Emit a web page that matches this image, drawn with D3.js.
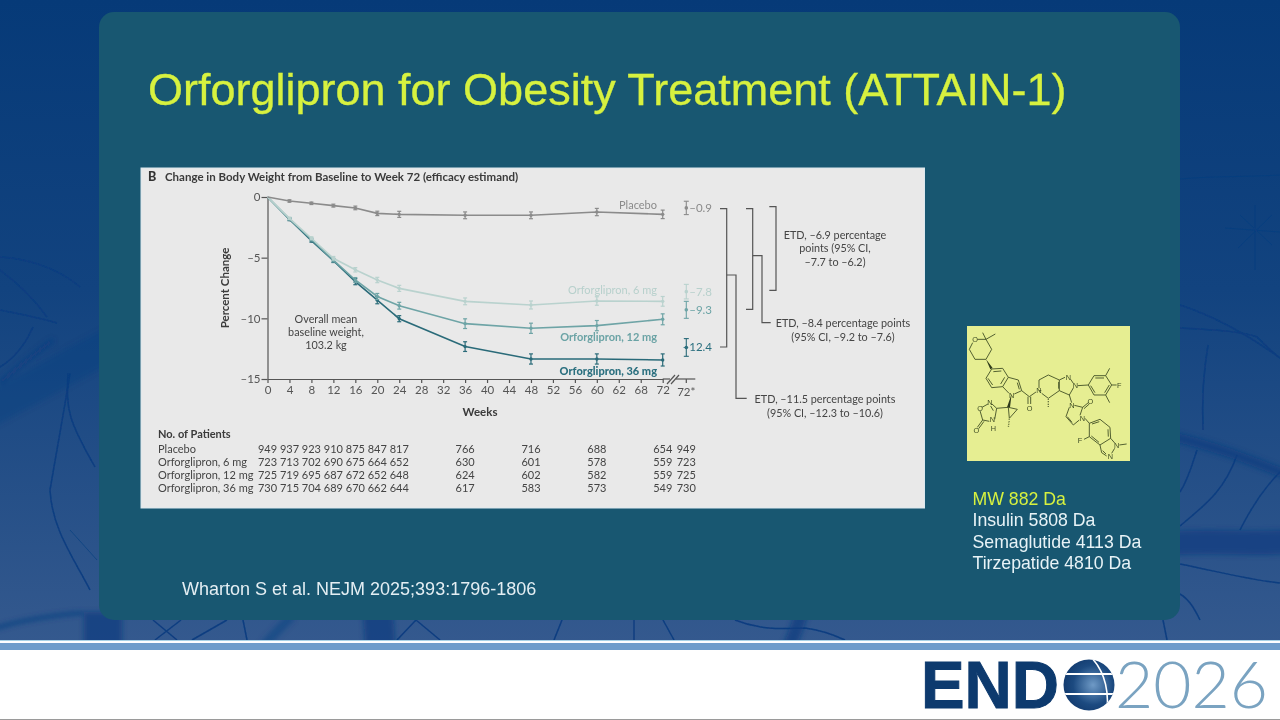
<!DOCTYPE html>
<html>

<head>
    <meta charset='utf-8' />
    <title>Orforglipron ATTAIN-1</title>
    <script src="https://cdn.jsdelivr.net/npm/d3@7"></script>
    <style>
        body {
            margin: 0;
            padding: 0;
            background: #fff;
        }

        svg {
            display: block;
        }

        .fig text {
            font-family: Lato, "Open Sans", sans-serif;
        }

        .axis path,
        .axis line {
            stroke: #555;
            stroke-width: 1.2;
        }

        .axis text {
            font-size: 11.5px;
            fill: #555;
            font-family: Lato, sans-serif;
        }
    </style>
</head>

<body>
    <div id='chart'></div>
    <script>
        // values
        var weeks = [0, 4, 8, 12, 16, 20, 24, 36, 48, 60, 72];
        var tickWeeks = d3.range(0, 73, 4);
        var tickLabels = ["0", "4", "8", "12", "16", "20", "24", "28", "32", "36", "40", "44", "48", "52", "56", "60", "62", "68", "72"];
        var yTicks = [0, -5, -10, -15];

        var placebo = [0, -0.33, -0.52, -0.71, -0.9, -1.35, -1.43, -1.51, -1.51, -1.24, -1.43];
        var mg6 = [0, -1.76, -3.4, -5.05, -6.0, -6.84, -7.53, -8.6, -8.9, -8.57, -8.6];
        var mg12 = [0, -1.8, -3.5, -5.2, -6.84, -8.2, -8.96, -10.44, -10.82, -10.6, -10.08];
        var mg36 = [0, -1.85, -3.6, -5.25, -6.98, -8.5, -10.03, -12.33, -13.35, -13.35, -13.43];

        var placeboCi = [0, 0.1, 0.1, 0.12, 0.15, 0.18, 0.25, 0.28, 0.28, 0.3, 0.35];
        var mg6Ci = [0, 0.1, 0.12, 0.15, 0.18, 0.22, 0.25, 0.28, 0.33, 0.35, 0.4];
        var mg12Ci = [0, 0.1, 0.12, 0.15, 0.2, 0.25, 0.28, 0.4, 0.42, 0.42, 0.45];
        var mg36Ci = [0, 0.1, 0.12, 0.15, 0.25, 0.3, 0.25, 0.4, 0.42, 0.42, 0.5];

        var seriesNames = ["Placebo", "Orforglipron, 6 mg", "Orforglipron, 12 mg", "Orforglipron, 36 mg"];
        var star = [-0.9, -7.8, -9.3, -12.4];
        var starCi = [0.55, 0.6, 0.7, 0.73];
        var starLabels = ["\u20130.9", "\u20137.8", "\u20139.3", "\u201312.4"];

        var nPlacebo = [949, 937, 923, 910, 875, 847, 817, 766, 716, 688, 654, 949];
        var n6 = [723, 713, 702, 690, 675, 664, 652, 630, 601, 578, 559, 723];
        var n12 = [725, 719, 695, 687, 672, 652, 648, 624, 602, 582, 559, 725];
        var n36 = [730, 715, 704, 689, 670, 662, 644, 617, 583, 573, 549, 730];

        var massLines = ["MW 882 Da", "Insulin 5808 Da", "Semaglutide 4113 Da", "Tirzepatide 4810 Da"];

        var colors = ["#8b8b8b", "#b9d2ce", "#6ea4a6", "#2a6b79"];
        var labelColors = ["#8a8a8a", "#b7d0cc", "#6ba3a5", "#2b6f7f"];
        var starWeek = 76.3;

        var svg = d3.select("#chart").append("svg").attr("width", 1280).attr("height", 720);
        var defs = svg.append("defs");

        var bg = defs.append("linearGradient").attr("id", "bg").attr("x1", 0).attr("x2", 0).attr("y1", 0).attr("y2", 1);
        bg.append("stop").attr("offset", "0%").attr("stop-color", "#063a78");
        bg.append("stop").attr("offset", "45%").attr("stop-color", "#12437f");
        bg.append("stop").attr("offset", "100%").attr("stop-color", "#34598e");
        defs.append("filter").attr("id", "soft").append("feGaussianBlur").attr("stdDeviation", 0.3);
        defs.append("filter").attr("id", "vein").append("feGaussianBlur").attr("stdDeviation", 0.6);
        defs.append("filter").attr("id", "band").attr("x", "-20%").attr("y", "-20%").attr("width", "140%").attr("height", "140%")
            .append("feGaussianBlur").attr("stdDeviation", 2.5);
        var globe = defs.append("radialGradient").attr("id", "globe").attr("cx", "55%").attr("cy", "50%").attr("r", "60%");
        globe.append("stop").attr("offset", "0%").attr("stop-color", "#6f9ac6");
        globe.append("stop").attr("offset", "55%").attr("stop-color", "#1c4a80");
        globe.append("stop").attr("offset", "100%").attr("stop-color", "#0d3264");
        defs.append("clipPath").attr("id", "globeClip").append("circle").attr("cx", 1089).attr("cy", 685).attr("r", 25.5);

        drawBackground();
        drawPanel();
        drawFigure();
        drawMolecule();
        drawLogo();

        function drawBackground() {
            svg.append("rect").attr("width", 1280).attr("height", 642).attr("fill", "url(#bg)");
            var v = svg.append("g").attr("fill", "none").attr("stroke", "#0b3d80").attr("filter", "url(#vein)");
            var thin = [
                "M0 257C20 258 55 265 80 287",
                "M0 270C20 285 35 300 47 317",
                "M0 310C20 314 40 318 57 323",
                "M33 327C25 345 15 358 0 367",
                "M70 373C66 400 62 420 50 490C52 530 75 560 90 590",
                "M68 373C66 410 68 420 95 467",
                "M1180 305C1220 318 1255 340 1280 358",
                "M1180 328C1220 330 1245 332 1257 337C1265 345 1272 352 1280 358",
                "M1208 345C1202 380 1202 405 1203 430",
                "M1197 450C1192 465 1188 480 1180 492",
                "M1237 455C1225 490 1205 505 1180 526",
                "M1280 472C1262 490 1250 510 1240 530",
                "M1180 564C1220 572 1250 580 1280 583",
                "M1180 594C1190 600 1195 610 1200 620",
                "M1163 620L1167 640",
                "M153 620L177 640M181 620L155 640",
                "M227 620L192 640M243 620L247 640",
                "M416 620L397 640M416 620L440 640",
                "M562 620L554 640M634 620V640M663 620L674 640",
                "M735 620C765 632 790 628 805 628C820 630 832 634 845 640"
            ];
            v.selectAll("path.thin").data(thin).enter().append("path").attr("class", "thin")
                .attr("d", function (d) { return d; }).attr("stroke-width", 1.5);
            var faint = [
                "M70 530L97 560",
                "M1180 179C1210 176 1250 177 1280 175",
                "M1225 228L1280 232M1255 205V270M1240 215L1272 245M1272 215L1238 248"
            ];
            v.selectAll("path.faint").data(faint).enter().append("path").attr("class", "faint")
                .attr("d", function (d) { return d; }).attr("stroke-width", 1).attr("opacity", 0.6);
            var thick = [
                { d: "M-40 425C20 395 70 365 110 345", w: 34, o: 0.32 },
                { d: "M0 383C20 365 40 350 53 340", w: 4, o: 0.7 },
                { d: "M1170 436C1215 446 1250 460 1290 476", w: 9, o: 0.8 },
                { d: "M1170 543C1215 541 1250 544 1290 542", w: 24, o: 0.7 },
                { d: "M-10 630C20 620 55 615 83 613", w: 3, o: 0.9 },
                { d: "M103 612V650", w: 38, o: 0.75 },
                { d: "M292 616C280 628 270 638 262 648", w: 9, o: 0.45 },
                { d: "M378 612C379 628 380 635 380 650", w: 30, o: 0.75 },
                { d: "M802 612C797 628 793 638 788 650", w: 13, o: 0.75 }
            ];
            var t = svg.append("g").attr("fill", "none").attr("stroke", "#0b3d80").attr("filter", "url(#band)");
            t.selectAll("path").data(thick).enter().append("path")
                .attr("d", function (d) { return d.d; })
                .attr("stroke-width", function (d) { return d.w; })
                .attr("opacity", function (d) { return d.o; });

            // footer stripes
            svg.append("rect").attr("y", 640).attr("width", 1280).attr("height", 80).attr("fill", "#fff");
            svg.append("rect").attr("y", 643).attr("width", 1280).attr("height", 7).attr("fill", "#6f9dcb");
            svg.append("rect").attr("y", 640).attr("width", 1280).attr("height", 1).attr("fill", "#a9d3e6");
            svg.append("rect").attr("y", 719).attr("width", 1280).attr("height", 1).attr("fill", "#9a9a9a");
        }

        function drawPanel() {
            svg.append("rect").attr("x", 99).attr("y", 12).attr("width", 1081).attr("height", 608)
                .attr("rx", 15).attr("fill", "#185771");
            svg.append("text").attr("x", 148).attr("y", 105)
                .attr("font-family", "'Liberation Sans', Arial, sans-serif").attr("font-size", 45)
                .attr("fill", "#d7f13f").attr("stroke", "#d7f13f").attr("stroke-width", 0.3)
                .text("Orforglipron for Obesity Treatment (ATTAIN-1)");
            svg.append("text").attr("x", 182).attr("y", 595)
                .attr("font-family", "'Liberation Sans', Arial, sans-serif").attr("font-size", 18)
                .attr("fill", "#e4eef3").text("Wharton S et al. NEJM 2025;393:1796-1806");
            svg.append("g").selectAll("text").data(massLines).enter().append("text")
                .attr("x", 972.5)
                .attr("y", function (d, i) { return 505 + i * 21.4; })
                .attr("font-family", "'Liberation Sans', Arial, sans-serif").attr("font-size", 17.7)
                .attr("fill", function (d, i) { return i == 0 ? "#d7f13f" : "#e8f3f7"; })
                .text(function (d) { return d; });
        }

        function drawFigure() {
            var fig = svg.append("g").attr("class", "fig").attr("filter", "url(#soft)");
            fig.append("rect").attr("x", 141).attr("y", 168).attr("width", 783.5).attr("height", 340)
                .attr("fill", "#e9e9e9").attr("stroke", "#dce8ee").attr("stroke-width", 1);

            var x = d3.scaleLinear().domain([0, 72]).range([267.5, 662.7]);
            var y = d3.scaleLinear().domain([0, -15]).range([197, 379]);

            fig.append("text").attr("x", 148).attr("y", 181).attr("font-size", 12.5).attr("font-weight", 900)
                .attr("fill", "#333").text("B");
            fig.append("text").attr("x", 165).attr("y", 181).attr("font-size", 11.5).attr("font-weight", 700)
                .attr("fill", "#3a3a3a").text("Change in Body Weight from Baseline to Week 72 (efficacy estimand)");

            // axes
            var yAxis = d3.axisLeft(y).tickValues(yTicks).tickSize(6).tickSizeOuter(0)
                .tickFormat(function (d) { return d == 0 ? "0" : "\u2013" + Math.abs(d); });
            var gy = fig.append("g").attr("class", "axis").attr("transform", "translate(267.5,0)").call(yAxis);
            gy.selectAll("text").attr("x", -7);

            var xAxis = d3.axisBottom(x).tickValues(tickWeeks).tickSize(4).tickSizeOuter(0)
                .tickFormat(function (d, i) { return tickLabels[i]; });
            var gx = fig.append("g").attr("class", "axis").attr("transform", "translate(0,379)").call(xAxis);
            gx.selectAll("text").attr("y", 7);

            // stretch of the axis past the break, with the 72* tick
            var brk = fig.append("g").attr("stroke", "#555").attr("fill", "none").attr("stroke-width", 1.2);
            brk.append("line").attr("x1", x(72)).attr("x2", 670).attr("y1", 379).attr("y2", 379);
            brk.append("line").attr("x1", 676).attr("x2", x(starWeek) + 9).attr("y1", 379).attr("y2", 379);
            brk.append("line").attr("x1", x(starWeek)).attr("x2", x(starWeek)).attr("y1", 379).attr("y2", 383);
            brk.append("line").attr("x1", 667).attr("x2", 675).attr("y1", 384).attr("y2", 375);
            brk.append("line").attr("x1", 671).attr("x2", 679).attr("y1", 384).attr("y2", 375);
            fig.append("text").attr("x", x(starWeek)).attr("y", 395.5).attr("text-anchor", "middle")
                .attr("font-size", 11.5).attr("fill", "#555").text("72*");

            fig.append("text").attr("transform", "translate(229,288) rotate(-90)").attr("text-anchor", "middle")
                .attr("font-size", 11.5).attr("font-weight", 700).attr("fill", "#3a3a3a").text("Percent Change");
            fig.append("text").attr("x", 480).attr("y", 416).attr("text-anchor", "middle")
                .attr("font-size", 11.5).attr("font-weight", 700).attr("fill", "#3a3a3a").text("Weeks");

            fig.append("g").selectAll("text").data(["Overall mean", "baseline weight,", "103.2 kg"]).enter().append("text")
                .attr("x", 326).attr("y", function (d, i) { return 323 + i * 13; }).attr("text-anchor", "middle")
                .attr("font-size", 10.8).attr("fill", "#444").text(function (d) { return d; });

            // series, heaviest dose first so the lighter ones sit on top early on
            var all = [placebo, mg6, mg12, mg36];
            var cis = [placeboCi, mg6Ci, mg12Ci, mg36Ci];
            var line = d3.line().x(function (d) { return x(d.w); }).y(function (d) { return y(d.v); });

            [3, 2, 1, 0].forEach(function (s) {
                var pts = all[s].map(function (v, i) { return { w: weeks[i], v: v, c: cis[s][i] }; });
                var g = fig.append("g").attr("stroke", colors[s]).attr("fill", "none");
                g.append("path").attr("d", line(pts)).attr("stroke-width", 1.6);
                var bars = g.selectAll("g").data(pts.slice(1)).enter().append("g");
                bars.append("line").attr("stroke-width", 1.2)
                    .attr("x1", function (d) { return x(d.w); }).attr("x2", function (d) { return x(d.w); })
                    .attr("y1", function (d) { return y(d.v - d.c); }).attr("y2", function (d) { return y(d.v + d.c); });
                [1, -1].forEach(function (sign) {
                    bars.append("line").attr("stroke-width", 1.2)
                        .attr("x1", function (d) { return x(d.w) - 2; }).attr("x2", function (d) { return x(d.w) + 2; })
                        .attr("y1", function (d) { return y(d.v + sign * d.c); }).attr("y2", function (d) { return y(d.v + sign * d.c); });
                });
                bars.append("circle").attr("stroke", "none").attr("fill", colors[s]).attr("r", 1.7)
                    .attr("cx", function (d) { return x(d.w); }).attr("cy", function (d) { return y(d.v); });

                // week 72* estimate
                var sx = x(starWeek), g2 = fig.append("g").attr("stroke", colors[s]).attr("stroke-width", 1.1);
                g2.append("line").attr("x1", sx).attr("x2", sx).attr("y1", y(star[s] - starCi[s])).attr("y2", y(star[s] + starCi[s]));
                g2.append("line").attr("x1", sx - 2.5).attr("x2", sx + 2.5).attr("y1", y(star[s] - starCi[s])).attr("y2", y(star[s] - starCi[s]));
                g2.append("line").attr("x1", sx - 2.5).attr("x2", sx + 2.5).attr("y1", y(star[s] + starCi[s])).attr("y2", y(star[s] + starCi[s]));
                g2.append("circle").attr("cx", sx).attr("cy", y(star[s])).attr("r", 1.8).attr("fill", colors[s]).attr("stroke", "none");
                fig.append("text").attr("x", 712).attr("y", y(star[s]) + 4).attr("text-anchor", "end")
                    .attr("font-size", 11.5).attr("fill", labelColors[s]).text(starLabels[s]);
            });

            // series labels
            var labelY = [208.5, 294, 341, 374.5];
            seriesNames.forEach(function (name, s) {
                fig.append("text").attr("x", 657).attr("y", labelY[s]).attr("text-anchor", "end")
                    .attr("font-size", 11).attr("font-weight", s == 3 ? 900 : s == 2 ? 700 : 400)
                    .attr("fill", labelColors[s]).text(name);
            });

            // ETD brackets
            var br = fig.append("g").attr("fill", "none").attr("stroke", "#555").attr("stroke-width", 1.2);
            [
                "M720 208.7H726.7V347H720",
                "M726.7 275H736V398.3H746.7",
                "M746 208.7H752.7V309.3H746",
                "M752.7 255.7H762V322.7H770.7",
                "M769.3 206.7H776V290.3H769.3"
            ].forEach(function (d) { br.append("path").attr("d", d); });

            var etd = [
                { x: 835, y: 239, t: "ETD, \u20136.9 percentage" },
                { x: 835, y: 252, t: "points (95% CI," },
                { x: 835, y: 265.5, t: "\u20137.7 to \u20136.2)" },
                { x: 843, y: 327, t: "ETD, \u20138.4 percentage points" },
                { x: 843, y: 341, t: "(95% CI, \u20139.2 to \u20137.6)" },
                { x: 825, y: 403, t: "ETD, \u201311.5 percentage points" },
                { x: 825, y: 416.5, t: "(95% CI, \u201312.3 to \u201310.6)" }
            ];
            fig.append("g").selectAll("text").data(etd).enter().append("text")
                .attr("x", function (d) { return d.x; }).attr("y", function (d) { return d.y; })
                .attr("text-anchor", "middle").attr("font-size", 10.8).attr("fill", "#444")
                .text(function (d) { return d.t; });

            // patients table
            var colWeeks = weeks.concat([starWeek]);
            var rows = [nPlacebo, n6, n12, n36];
            fig.append("text").attr("x", 158).attr("y", 438).attr("font-size", 11).attr("font-weight", 700)
                .attr("fill", "#3a3a3a").text("No. of Patients");
            rows.forEach(function (row, r) {
                var ry = 453 + r * 13.1;
                fig.append("text").attr("x", 158).attr("y", ry).attr("font-size", 11).attr("fill", "#444").text(seriesNames[r]);
                fig.append("g").selectAll("text").data(row).enter().append("text")
                    .attr("x", function (d, i) { return x(colWeeks[i]); }).attr("y", ry)
                    .attr("text-anchor", "middle").attr("font-size", 11).attr("fill", "#444")
                    .text(function (d) { return d; });
            });
        }

        function drawMolecule() {
            svg.append("rect").attr("x", 967).attr("y", 326).attr("width", 163).attr("height", 135).attr("fill", "#e6ee92");
            // drawn in the 3x crop coordinates of the box
            var m = svg.append("g").attr("transform", "translate(960,320) scale(0.3333)").attr("filter", "url(#soft)");
            var bonds = "M52 58L78 58L95 88L78 118L45 118L28 88L38 68M78 58L68 38M78 58L106 42" +
                "M95 147L128 145L145 172L128 200L95 203L78 175L95 147M100 155L124 153M134 172L122 192M84 175L98 195" +
                "M145 172L175 180L185 212L163 222M147 220L128 200M172 188L178 208" +
                "M185 212L208 230L228 216M204 230V252M212 230V252" +
                "M244 212L237 212M237 205V180L265 165L298 180L298 212L265 235L245 220M298 180L315 172M298 212L328 225L340 204M332 178L340 190M296 186V206" +
                "M353 197L385 195L402 167L437 167L455 195L437 225L402 225L385 195M406 174L432 174M448 195L434 218M405 218L392 197" +
                "M437 167L449 145M437 225L449 248M455 195L470 195" +
                "M328 225L335 248M343 256L368 262L360 286M368 262L385 248M372 266L388 252M358 300L340 315L318 290L328 262M336 307L322 290" +
                "M375 295L388 310L420 298L450 322L452 355L420 375L388 350L388 310M396 312L418 305M444 328L445 350M417 367L394 348" +
                "M388 350L372 358M452 355L465 370M478 375L500 372M464 385L455 400M440 408L425 398L420 375M438 402L428 392" +
                "M145 262L172 268L148 295L145 262M145 262L110 265L96 252M84 252L66 262M60 272L68 300L88 304M104 298L110 265M68 300L52 322M72 304L56 326M100 272L92 258";
            m.append("path").attr("d", bonds).attr("fill", "none").attr("stroke", "#3c4a22").attr("stroke-width", 2.6);
            // wedge and hashed bonds
            m.append("path").attr("d", "M78 118L91 148L98 144ZM155 222L141 262L150 262Z").attr("fill", "#2f3a1a");
            m.append("path").attr("d", "M265 238V262M148 298L145 322").attr("fill", "none").attr("stroke", "#3c4a22")
                .attr("stroke-width", 4).attr("stroke-dasharray", "2 3");
            var atoms = [["O", 45, 57], ["N", 155, 226], ["N", 237, 212], ["N", 325, 171], ["N", 346, 197], ["F", 478, 196], ["O", 209, 264],
                ["N", 336, 256], ["O", 391, 245], ["N", 367, 296], ["F", 360, 362], ["N", 470, 377], ["N", 451, 408], ["N", 90, 248], ["O", 60, 266], ["O", 49, 330], ["H", 100, 326], ["N", 97, 298]];
            m.selectAll("text").data(atoms).enter().append("text")
                .attr("x", function (d) { return d[1]; }).attr("y", function (d) { return d[2] + 8; })
                .attr("text-anchor", "middle").attr("font-family", "'Liberation Sans', sans-serif").attr("font-size", 22)
                .attr("fill", "#3c4a22").text(function (d) { return d[0]; });
        }

        function drawLogo() {
            var l = svg.append("g");
            l.append("text").attr("x", 921).attr("y", 708).attr("font-family", "'Liberation Sans', sans-serif")
                .attr("font-weight", 700).attr("font-size", 66).attr("textLength", 138).attr("lengthAdjust", "spacingAndGlyphs")
                .attr("fill", "#0d3a6e").attr("stroke", "#0d3a6e").attr("stroke-width", 1).text("END");
            var g = l.append("g").attr("clip-path", "url(#globeClip)");
            g.append("rect").attr("x", 1060).attr("y", 655).attr("width", 60).attr("height", 60).attr("fill", "url(#globe)");
            g.append("rect").attr("x", 1060).attr("y", 673).attr("width", 60).attr("height", 2).attr("fill", "#fff");
            g.append("rect").attr("x", 1060).attr("y", 693).attr("width", 60).attr("height", 2).attr("fill", "#fff");
            g.append("path").attr("d", "M1090 656C1106 672 1110 695 1106 716").attr("fill", "none").attr("stroke", "#fff").attr("stroke-width", 1.6);
            l.append("text").attr("x", 1115).attr("y", 708).attr("font-family", "Lato, sans-serif")
                .attr("font-weight", 300).attr("font-size", 66).attr("textLength", 153).attr("lengthAdjust", "spacingAndGlyphs")
                .attr("fill", "#7aa3c1").text("2026");
        }
    </script>

</body>

</html>
